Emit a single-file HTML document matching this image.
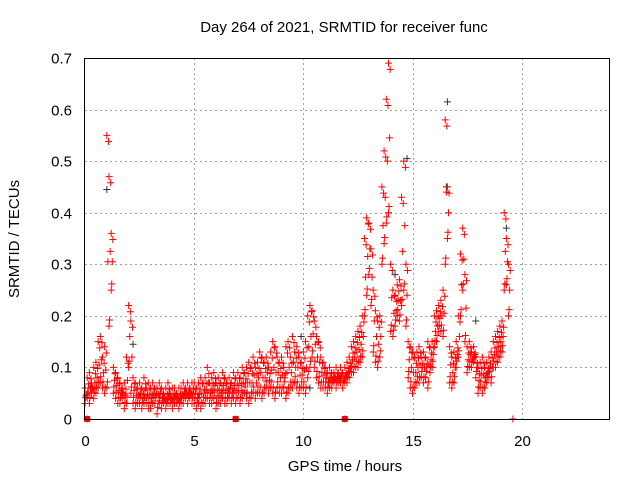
<!DOCTYPE html>
<html><head><meta charset="utf-8"><style>
body{margin:0;background:#fff}
svg{display:block;font-family:"Liberation Sans",sans-serif}
</style></head><body>
<svg id="c" width="640" height="480">
<rect width="640" height="480" fill="#fff"/>
<g id="grid"></g>
<g id="ticks"></g>
<g id="black"></g>
<g id="red"></g>
<rect x="84.5" y="58.5" width="525" height="361" fill="none" stroke="#000"/>
<text x="344" y="32" font-size="15" text-anchor="middle">Day 264 of 2021, SRMTID for receiver func</text>
<text x="345" y="471" font-size="15" text-anchor="middle">GPS time / hours</text>
<text transform="translate(19,239) rotate(-90)" font-size="15" text-anchor="middle">SRMTID / TECUs</text>
</svg>
<script>
const xTicks=[0,5,10,15,20];
const yTicks=[0,0.1,0.2,0.3,0.4,0.5,0.6,0.7];
const yTickLabels=["0","0.1","0.2","0.3","0.4","0.5","0.6","0.7"];
const lo=[.03,.04,.03,.05,.04, .05,.06,.07,.06,.05, .06,.18,.25, .05,.04,.03,.03,.04,.02,.03, .1,.05,.03,
.02,.03,.03,.02,.03,.03,.02,.02,.03,.03,.01,.03,.02,.03,.02,.03,.03,.02,.03,.03,.02,.03,.03,.04,.03,.04,.03,
.03,.02,.03,.02,.03,.03,.04,.03,.03,.04,.02,.03,.03,.04,.03,.03,.04,.03,.04,.03,
.04,.03,.04,.05,.04,.03,.04,.05,.04,.05,.05,.04,.05,.06,.05,.06,.05,.04,.06,.05,
.05,.06,.04,.05,.06,.06,.07,.06,.05,.06, .06,.05,.08,.1,.12,.1,.08,.07,.06,.06,
.06,.05,.06,.06,.07,.06,.07,.07,.06,.07, .07,.08,.09,.09,.1,.1,.11,.12, .2,.24,.28,.22, .13,.11,.1,.12,
.3,.34,.38,.4, .17,.16,.18,.2,.19, .22,.25,.18, .08,.06,.05,.06,.07,.07,.08, .07,.08,.06,.09,.1,
.14,.15,.17,.17,.16, .3,.35, .07,.06,.07, .1,.12,.2,.25,.15, .09,.1,.1,.11,.08,
.05,.06,.05,.06,.07,.08,.07, .1,.1,.11,.12,.13, .25,.26,.2];
const hi=[.06,.08,.09,.07,.1, .11,.15,.16,.12,.14, .55,.47,.36, .1,.09,.08,.07,.06,.07,.12, .22,.19,.08,
.07,.06,.07,.06,.08,.06,.07,.06,.07,.06,.06,.07,.06,.05,.06,.07,.05,.06,.06,.05,.06,.06,.07,.06,.07,.06,.07,
.07,.06,.07,.08,.07,.08,.1,.07,.08,.09,.07,.08,.07,.09,.08,.07,.08,.07,.09,.08,
.09,.08,.1,.09,.1,.11,.1,.12,.1,.11,.13,.12,.11,.12,.1,.13,.15,.14,.12,.11,
.12,.1,.14,.15,.12,.16,.13,.14,.12,.11, .13,.15,.2,.22,.21,.19,.16,.15,.12,.11,
.1,.09,.1,.09,.09,.1,.09,.1,.09,.1, .11,.12,.14,.15,.16,.17,.18,.2, .35,.39,.38,.33, .25,.21,.19,.2,
.45,.52,.62,.69, .3,.25,.24,.26,.27, .43,.5,.3, .15,.14,.13,.12,.13,.14,.12, .13,.12,.15,.14,.15,
.2,.21,.22,.23,.25, .58,.45, .14,.12,.13, .15,.2,.32,.37,.28, .14,.15,.13,.14,.12,
.1,.11,.12,.1,.11,.12,.13, .15,.16,.17,.18,.19, .4,.35,.3];
const blackOnlyT=[1.0,14.75,16.6,16.55,19.3,2.2,7.4,9.9,14.2,17.9,10.3];
const blackOnlyV=[0.445,0.505,0.615,0.45,0.37,0.145,0.05,0.16,0.28,0.19,0.06];
const zeroT=[0.1,6.9,11.9,19.6];
const NS="http://www.w3.org/2000/svg";
const X0=85,X1=609,Y0=419,Y1=58;
const xs=t=>X0+(t/24)*(X1-X0);
const ys=v=>Y0-(v/0.7)*(Y0-Y1);
function el(tag,attrs,parent){const e=document.createElementNS(NS,tag);for(const k in attrs)e.setAttribute(k,attrs[k]);parent.appendChild(e);return e;}
const grid=document.getElementById('grid'),ticks=document.getElementById('ticks');
xTicks.forEach(t=>{const x=Math.round(xs(t))+0.5;
 if(t>0){const g=el('line',{x1:x,x2:x,y1:Y1,y2:Y0,stroke:'#a0a0a0','stroke-dasharray':'2,3'},grid);
 
 }
 const l=el('text',{x:x,y:446,'font-size':15,'text-anchor':'middle'},ticks);l.textContent=t;
 
 
});
yTicks.forEach((v,i)=>{const y=Math.round(ys(v))+0.5;
 if(i>0&&i<yTicks.length-1){const g=el('line',{x1:X0,x2:X1,y1:y,y2:y,stroke:'#a0a0a0','stroke-dasharray':'2,3'},grid);
 
 }
 const l=el('text',{x:72,y:y+5,'font-size':15,'text-anchor':'end'},ticks);l.textContent=yTickLabels[i];
 
 
});
function plus(x,y){return 'M'+(x-3.5)+' '+y+'h7M'+x+' '+(y-3.5)+'v7';}
let dr='',db='';
lo.forEach((v,i)=>{const t=i*0.1,h=hi[i],m=(v+h)/2;
 dr+=plus(xs(t),ys(v))+plus(xs(t),ys(h))+plus(xs(t+0.05),ys(m))
   +plus(xs(t+0.025),ys(v+0.012))+plus(xs(t+0.075),ys(h-0.012));
});
blackOnlyT.forEach((t,i)=>{db+=plus(xs(t),ys(blackOnlyV[i]));});
zeroT.forEach(t=>{dr+=plus(xs(t),ys(0));});
const pb=el('path',{d:db,stroke:'#333',fill:'none','stroke-width':1},document.getElementById('black'));


const pr=el('path',{d:dr,stroke:'#f00',fill:'none','stroke-width':1},document.getElementById('red'));


zeroT.slice(0,3).forEach(t=>{const r=el('rect',{x:xs(t)-3,y:Y0-3,width:6,height:6,fill:'#f00'},document.getElementById('red'));
 
 });
</script>
</body></html>
